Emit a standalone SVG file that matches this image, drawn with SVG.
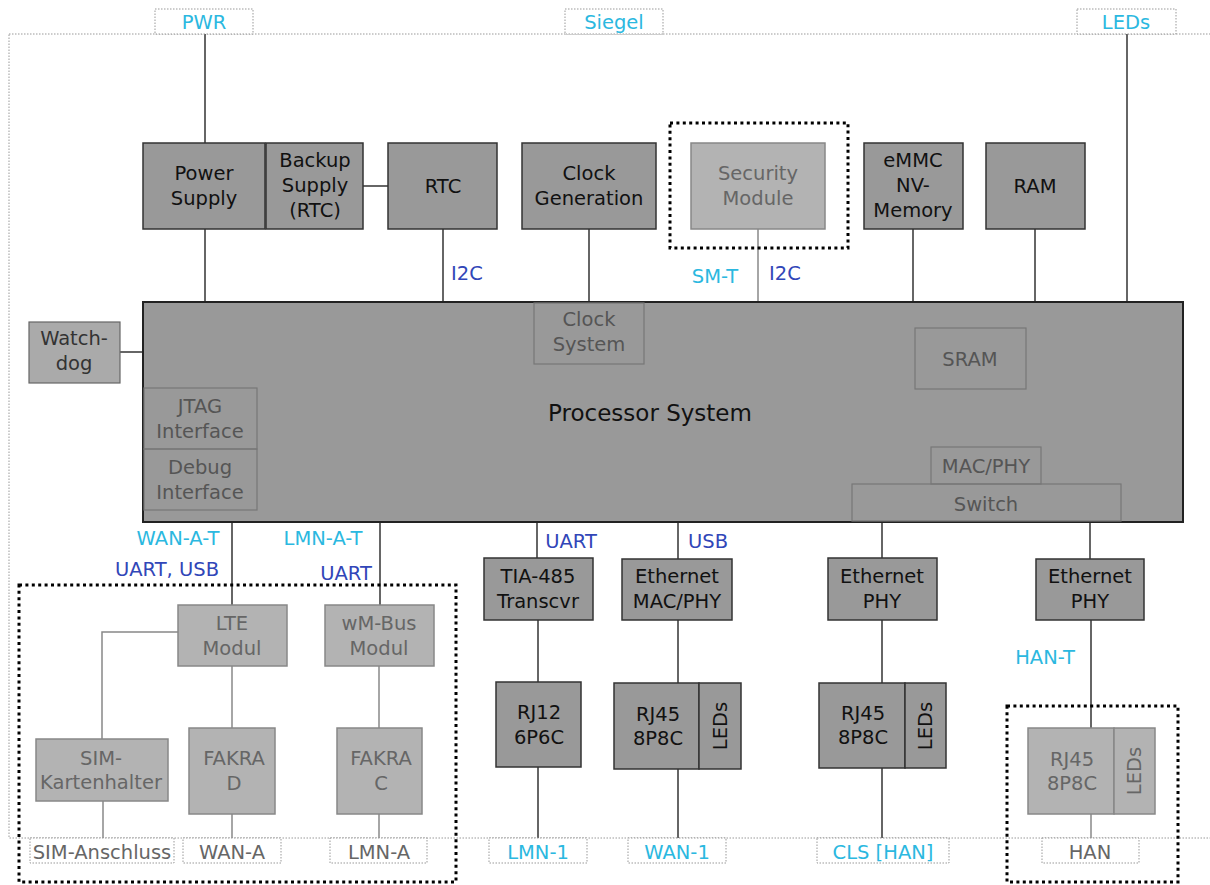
<svg xmlns="http://www.w3.org/2000/svg" width="1210" height="885" viewBox="0 0 1210 885">
<style>
text{font-family:"DejaVu Sans","Liberation Sans",sans-serif;font-size:19.5px;text-anchor:middle}
.b{fill:#999;stroke:#333;stroke-width:1.5}
.g{fill:#b3b3b3;stroke:#888;stroke-width:1.5}
.w{fill:#aaa;stroke:#666;stroke-width:1.2}
.i{fill:none;stroke:#777;stroke-width:1.2}
.tk{fill:#111}
.tg{fill:#666}
.ti{fill:#555}
.c{fill:#2bb8e0}
.d{fill:#3146b8}
.port{fill:#fff;stroke:#999;stroke-width:1;stroke-dasharray:1.5 1.5}
.frame{fill:none;stroke:#999;stroke-width:1;stroke-dasharray:1.5 1.5}
.dot{fill:none;stroke:#000;stroke-width:3;stroke-dasharray:3 3.4}
.l{stroke:#333;stroke-width:1.5;fill:none}
.lg{stroke:#888;stroke-width:1.5;fill:none}
</style>
<rect class="frame" x="9" y="34" width="1210" height="804"/>
<g id="connectors">
<line class="l" x1="205" y1="34" x2="205" y2="143"/>
<line class="l" x1="205" y1="229" x2="205" y2="302"/>
<line class="l" x1="363" y1="186" x2="388" y2="186"/>
<line class="l" x1="443" y1="229" x2="443" y2="302"/>
<line class="l" x1="589" y1="229" x2="589" y2="302"/>
<line class="lg" x1="758" y1="229" x2="758" y2="302"/>
<line class="l" x1="913" y1="229" x2="913" y2="302"/>
<line class="l" x1="1035" y1="229" x2="1035" y2="302"/>
<line class="l" x1="1127" y1="34" x2="1127" y2="302"/>
<line class="l" x1="120" y1="352" x2="143" y2="352"/>
<line class="l" x1="232" y1="522" x2="232" y2="605"/>
<line class="l" x1="380" y1="522" x2="380" y2="605"/>
<polyline class="lg" points="178,632 102,632 102,739"/>
<line class="lg" x1="103" y1="801" x2="103" y2="838"/>
<line class="lg" x1="232" y1="666" x2="232" y2="728"/>
<line class="lg" x1="232" y1="814" x2="232" y2="838"/>
<line class="lg" x1="379" y1="666" x2="379" y2="728"/>
<line class="lg" x1="379" y1="814" x2="379" y2="838"/>
<line class="l" x1="537" y1="522" x2="537" y2="558"/>
<line class="l" x1="538" y1="620" x2="538" y2="682"/>
<line class="l" x1="538" y1="767" x2="538" y2="838"/>
<line class="l" x1="678" y1="522" x2="678" y2="559"/>
<line class="l" x1="678" y1="620" x2="678" y2="683"/>
<line class="l" x1="678" y1="769" x2="678" y2="838"/>
<line class="l" x1="882" y1="522" x2="882" y2="558"/>
<line class="l" x1="882" y1="620" x2="882" y2="683"/>
<line class="l" x1="882" y1="768" x2="882" y2="838"/>
<line class="l" x1="1090" y1="522" x2="1090" y2="559"/>
<line class="l" x1="1091" y1="620" x2="1091" y2="728"/>
<line class="lg" x1="1091" y1="814" x2="1091" y2="838"/>
</g>
<g id="labels">
<text class="d" x="467" y="280">I2C</text>
<text class="c" x="715" y="283">SM-T</text>
<text class="d" x="785" y="280">I2C</text>
<text class="c" x="178" y="545">WAN-A-T</text>
<text class="d" x="167" y="576">UART, USB</text>
<text class="c" x="323" y="545">LMN-A-T</text>
<text class="d" x="346" y="580">UART</text>
<text class="d" x="571" y="548">UART</text>
<text class="d" x="708" y="548">USB</text>
<text class="c" x="1045" y="664">HAN-T</text>
</g>
<g id="ports">
<g id="p-pwr"><rect class="port" x="155" y="9" width="98" height="25"/><text class="c" x="204" y="29">PWR</text></g>
<g id="p-siegel"><rect class="port" x="565" y="9" width="98" height="25"/><text class="c" x="614" y="29">Siegel</text></g>
<g id="p-leds"><rect class="port" x="1077" y="9" width="99" height="25"/><text class="c" x="1126" y="29">LEDs</text></g>
<g id="p-sim"><rect class="port" x="30" y="838" width="144" height="25"/><text class="tg" x="102" y="859">SIM-Anschluss</text></g>
<g id="p-wana"><rect class="port" x="183" y="838" width="98" height="25"/><text class="tg" x="232" y="859">WAN-A</text></g>
<g id="p-lmna"><rect class="port" x="330" y="838" width="97" height="25"/><text class="tg" x="379" y="859">LMN-A</text></g>
<g id="p-lmn1"><rect class="port" x="489" y="838" width="98" height="25"/><text class="c" x="538" y="859">LMN-1</text></g>
<g id="p-wan1"><rect class="port" x="628" y="838" width="98" height="25"/><text class="c" x="677" y="859">WAN-1</text></g>
<g id="p-cls"><rect class="port" x="817" y="838" width="132" height="25"/><text class="c" x="883" y="859">CLS [HAN]</text></g>
<g id="p-han"><rect class="port" x="1042" y="838" width="97" height="25"/><text class="tg" x="1090" y="859">HAN</text></g>
</g>
<g id="power-supply"><rect class="b" x="143" y="143" width="122" height="86"/><text class="tk" x="204" y="180">Power</text><text class="tk" x="204" y="205">Supply</text></g>
<g id="backup-supply"><rect class="b" x="266" y="143" width="97" height="86"/><text class="tk" x="315" y="167">Backup</text><text class="tk" x="315" y="192">Supply</text><text class="tk" x="315" y="217">(RTC)</text></g>
<g id="rtc"><rect class="b" x="388" y="143" width="109" height="86"/><text class="tk" x="443" y="193">RTC</text></g>
<g id="clock-gen"><rect class="b" x="522" y="143" width="134" height="86"/><text class="tk" x="589" y="180">Clock</text><text class="tk" x="589" y="205">Generation</text></g>
<g id="security"><rect class="dot" x="670" y="123" width="178" height="125"/><rect class="g" x="691" y="143" width="134" height="86"/><text class="tg" x="758" y="180">Security</text><text class="tg" x="758" y="205">Module</text></g>
<g id="emmc"><rect class="b" x="864" y="143" width="99" height="86"/><text class="tk" x="913" y="167">eMMC</text><text class="tk" x="913" y="192">NV-</text><text class="tk" x="913" y="217">Memory</text></g>
<g id="ram"><rect class="b" x="986" y="143" width="99" height="86"/><text class="tk" x="1035" y="193">RAM</text></g>
<g id="processor">
<rect class="b" x="143" y="302" width="1040" height="220" style="stroke:#222;stroke-width:2"/>
<text class="tk" x="650" y="421" style="font-size:23px">Processor System</text>
<rect class="i" x="534" y="303" width="110" height="61"/><text class="ti" x="589" y="326">Clock</text><text class="ti" x="589" y="351">System</text>
<rect class="i" x="915" y="328" width="111" height="61"/><text class="ti" x="970" y="366">SRAM</text>
<rect class="i" x="144" y="388" width="113" height="61"/><text class="ti" x="200" y="413">JTAG</text><text class="ti" x="200" y="438">Interface</text>
<rect class="i" x="144" y="449" width="113" height="61"/><text class="ti" x="200" y="474">Debug</text><text class="ti" x="200" y="499">Interface</text>
<rect class="i" x="931" y="447" width="110" height="37"/><text class="ti" x="986" y="473">MAC/PHY</text>
<rect class="i" x="852" y="484" width="269" height="37"/><text class="ti" x="986" y="511">Switch</text>
</g>
<g id="watchdog"><rect class="w" x="29" y="322" width="91" height="61"/><text x="74" y="345" fill="#333">Watch-</text><text x="74" y="370" fill="#333">dog</text></g>
<g id="wan-lmn-module">
<rect class="dot" x="19" y="585" width="437" height="297"/>
<g id="lte"><rect class="g" x="178" y="605" width="109" height="61"/><text class="tg" x="232" y="630">LTE</text><text class="tg" x="232" y="655">Modul</text></g>
<g id="wmbus"><rect class="g" x="325" y="605" width="109" height="61"/><text class="tg" x="379" y="630">wM-Bus</text><text class="tg" x="379" y="655">Modul</text></g>
<g id="sim"><rect class="g" x="36" y="739" width="132" height="62"/><text class="tg" x="101" y="765">SIM-</text><text class="tg" x="101" y="789">Kartenhalter</text></g>
<g id="fakra-d"><rect class="g" x="189" y="728" width="86" height="86"/><text class="tg" x="234" y="765">FAKRA</text><text class="tg" x="234" y="790">D</text></g>
<g id="fakra-c"><rect class="g" x="337" y="728" width="85" height="86"/><text class="tg" x="381" y="765">FAKRA</text><text class="tg" x="381" y="790">C</text></g>
</g>
<g id="tia485"><rect class="b" x="484" y="558" width="109" height="62"/><text class="tk" x="538" y="583">TIA-485</text><text class="tk" x="538" y="608">Transcvr</text></g>
<g id="eth-macphy"><rect class="b" x="622" y="559" width="110" height="61"/><text class="tk" x="677" y="583">Ethernet</text><text class="tk" x="677" y="608">MAC/PHY</text></g>
<g id="rj12"><rect class="b" x="496" y="682" width="85" height="85"/><text class="tk" x="539" y="719">RJ12</text><text class="tk" x="539" y="744">6P6C</text></g>
<g id="rj45-wan"><rect class="b" x="614" y="683" width="85" height="86"/><rect class="b" x="699" y="683" width="42" height="86"/><text class="tk" x="658" y="721">RJ45</text><text class="tk" x="658" y="745">8P8C</text><text class="tk" transform="translate(727,726) rotate(-90)">LEDs</text></g>
<g id="eth-phy-cls"><rect class="b" x="828" y="558" width="109" height="62"/><text class="tk" x="882" y="583">Ethernet</text><text class="tk" x="882" y="608">PHY</text></g>
<g id="rj45-cls"><rect class="b" x="819" y="683" width="86" height="85"/><rect class="b" x="905" y="683" width="41" height="85"/><text class="tk" x="863" y="720">RJ45</text><text class="tk" x="863" y="744">8P8C</text><text class="tk" transform="translate(932,726) rotate(-90)">LEDs</text></g>
<g id="eth-phy-han"><rect class="b" x="1036" y="559" width="108" height="61"/><text class="tk" x="1090" y="583">Ethernet</text><text class="tk" x="1090" y="608">PHY</text></g>
<g id="rj45-han"><rect class="dot" x="1007" y="706" width="171" height="176"/><rect class="g" x="1028" y="728" width="86" height="86"/><rect class="g" x="1114" y="728" width="41" height="86"/><text class="tg" x="1072" y="766">RJ45</text><text class="tg" x="1072" y="790">8P8C</text><text class="tg" transform="translate(1141,771) rotate(-90)">LEDs</text></g>
</svg>
